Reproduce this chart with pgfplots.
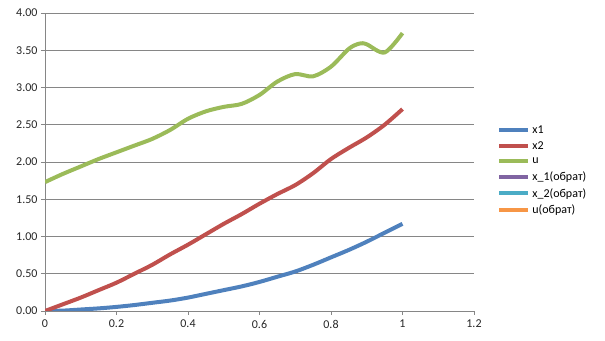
\documentclass[border=0pt]{standalone}
\usepackage{fontspec}
\setmainfont{Carlito}
\usepackage{pgfplots}
\pgfplotsset{compat=1.18}
\definecolor{cA}{HTML}{4F81BD}
\definecolor{cB}{HTML}{C0504D}
\definecolor{cC}{HTML}{9BBB59}
\definecolor{cD}{HTML}{8064A2}
\definecolor{cE}{HTML}{4BACC6}
\definecolor{cF}{HTML}{F79646}
\definecolor{gridc}{HTML}{868686}
\begin{document}
\begin{tikzpicture}[x=1pt,y=1pt]
\path[use as bounding box] (0,0) rectangle (605,340);
\begin{axis}[
  at={(45pt,29pt)}, anchor=south west,
  scale only axis, width=429pt, height=298pt,
  xmin=0, xmax=1.2, ymin=0, ymax=4,
  xtick={0,0.2,0.4,0.6,0.8,1,1.2},
  ytick={0,0.5,1,1.5,2,2.5,3,3.5,4},
  axis x line*=bottom, axis y line*=left,
  axis line style={gridc, line width=0.8pt},
  ymajorgrids, grid style={gridc, line width=0.8pt},
  tick style={gridc, line width=0.8pt},
  tick align=outside, major tick length=4pt,
  xticklabel style={/pgf/number format/.cd, fixed, /tikz/yshift=-1.5pt},
  yticklabel style={/pgf/number format/.cd, fixed, fixed zerofill, precision=2},
  /pgf/number format/assume math mode=true,
  ticklabel style={font=\fontsize{12}{14}\selectfont, color=black!85},
  legend style={at={(1.054,0.471)}, anchor=west, draw=none, fill=none,
    font=\fontsize{12}{14.4}\selectfont, row sep=2.6pt, inner sep=0pt},
  legend cell align=left,
  legend image code/.code={\draw[#1, line width=4pt] (0pt,0pt) -- (29pt,0pt);},
  every axis plot/.append style={line width=4pt, smooth, line join=round},
]
\addplot[cA] coordinates {(0,0) (0.05,0.005) (0.1,0.02) (0.15,0.035) (0.2,0.055) (0.25,0.08) (0.3,0.11) (0.35,0.14) (0.4,0.18) (0.45,0.23) (0.5,0.28) (0.55,0.33) (0.6,0.39) (0.65,0.46) (0.7,0.53) (0.75,0.62) (0.8,0.72) (0.85,0.82) (0.9,0.93) (0.95,1.05) (1,1.17)};
\addlegendentry{x1}
\addplot[cB] coordinates {(0,0) (0.05,0.09) (0.1,0.18) (0.15,0.28) (0.2,0.38) (0.25,0.50) (0.3,0.62) (0.35,0.76) (0.4,0.89) (0.45,1.03) (0.5,1.17) (0.55,1.30) (0.6,1.44) (0.65,1.57) (0.7,1.69) (0.75,1.85) (0.8,2.04) (0.85,2.19) (0.9,2.33) (0.95,2.50) (1,2.71)};
\addlegendentry{x2}
\addplot[cC] coordinates {(0,1.73) (0.05,1.84) (0.1,1.94) (0.15,2.04) (0.2,2.13) (0.25,2.22) (0.3,2.31) (0.35,2.43) (0.4,2.58) (0.45,2.68) (0.5,2.74) (0.55,2.78) (0.6,2.90) (0.65,3.08) (0.7,3.18) (0.75,3.15) (0.8,3.28) (0.85,3.52) (0.88,3.59) (0.9,3.58) (0.95,3.47) (1,3.73)};
\addlegendentry{u}
\addlegendimage{cD}
\addlegendentry{x\_1(обрат)}
\addlegendimage{cE}
\addlegendentry{x\_2(обрат)}
\addlegendimage{cF}
\addlegendentry{u(обрат)}
\end{axis}
\end{tikzpicture}
\end{document}
